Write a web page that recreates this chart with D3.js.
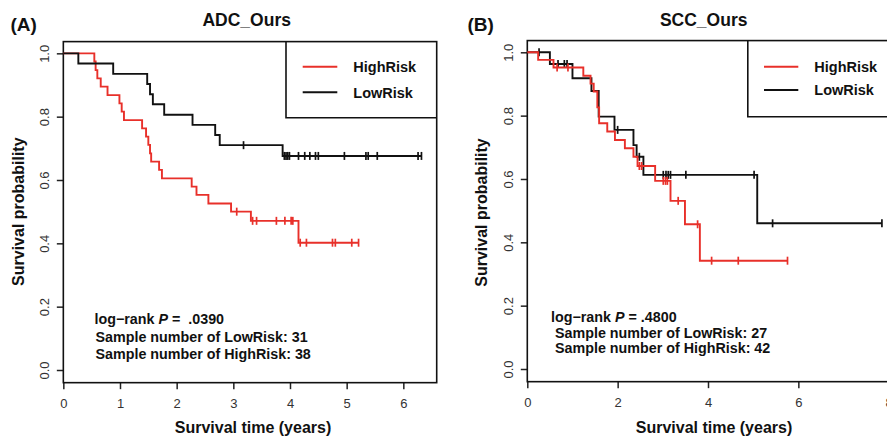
<!DOCTYPE html>
<html><head><meta charset="utf-8">
<script src="https://cdn.jsdelivr.net/npm/d3@7"></script>
<style>body{margin:0;background:#fff} svg{display:block;font-family:"Liberation Sans",Arial,sans-serif}</style>
</head><body><svg id="c" width="887" height="439"></svg>
<script>
// ---------- data ----------
const xTicksA = [0, 1, 2, 3, 4, 5, 6];
const xTicksB = [0, 2, 4, 6, 8];
const yTicks = [0, 0.2, 0.4, 0.6, 0.8, 1.0];
const seriesNames = ["HighRisk", "LowRisk"];

const adcHighTimes = [0.547, 0.57, 0.60, 0.66, 0.78, 0.99, 1.03, 1.07, 1.39, 1.46, 1.50, 1.53, 1.55, 1.69, 1.74, 2.265, 2.35, 2.56, 2.96, 3.31, 4.15];
const adcHighSurv  = [0.974, 0.947, 0.921, 0.895, 0.868, 0.842, 0.816, 0.789, 0.763, 0.737, 0.711, 0.684, 0.658, 0.632, 0.605, 0.579, 0.553, 0.526, 0.500, 0.471, 0.402];
const adcHighCensor = [3.06, 3.34, 3.41, 3.76, 3.91, 4.02, 4.05, 4.18, 4.29, 4.75, 4.80, 5.09, 5.21];

const adcLowTimes = [0.265, 0.88, 1.48, 1.53, 1.58, 1.78, 2.28, 2.68, 2.76, 3.87];
const adcLowSurv  = [0.968, 0.935, 0.903, 0.871, 0.839, 0.806, 0.774, 0.742, 0.710, 0.676];
const adcLowCensor = [3.18, 3.90, 3.93, 3.96, 3.99, 4.15, 4.26, 4.35, 4.45, 4.50, 4.96, 5.34, 5.38, 5.54, 6.26, 6.32];

const sccHighTimes = [0.24, 0.58, 1.24, 1.40, 1.47, 1.55, 1.59, 1.77, 1.94, 2.16, 2.35, 2.44, 2.83, 3.17, 3.49, 3.82];
const sccHighSurv  = [0.976, 0.952, 0.926, 0.901, 0.876, 0.826, 0.776, 0.750, 0.723, 0.697, 0.670, 0.641, 0.594, 0.531, 0.457, 0.342];
const sccHighCensor = [0.66, 0.90, 2.48, 2.53, 3.01, 3.06, 3.10, 3.34, 3.77, 4.08, 4.67, 5.76];

const sccLowTimes = [0.50, 1.00, 1.42, 1.58, 1.93, 2.35, 2.42, 2.57, 5.09];
const sccLowSurv  = [0.963, 0.918, 0.878, 0.797, 0.755, 0.707, 0.670, 0.613, 0.460];
const sccLowCensor = [0.26, 0.68, 0.82, 0.88, 2.00, 2.48, 3.01, 3.07, 3.12, 3.17, 3.51, 5.02, 5.43, 7.85];

const notesA = ["log\u2212rank |P| =  .0390", "Sample number of LowRisk: 31", "Sample number of HighRisk: 38"];
const notesB = ["log\u2212rank |P| = .4800", " Sample number of LowRisk: 27", " Sample number of HighRisk: 42"];

const RED = "#e8302a", BLACK = "#111";
// ---------------------------------------------------

const svg = d3.select("#c");

function kmPoints(times, surv, censor) {
  const pts = [[0, 1]];
  times.forEach((t, i) => pts.push([t, surv[i]]));
  const end = Math.max(d3.max(times), d3.max(censor));
  pts.push([end, pts[pts.length - 1][1]]);
  return pts;
}
function survAt(times, surv, t) {
  let v = 1;
  times.forEach((tt, i) => { if (tt <= t) v = surv[i]; });
  return v;
}

function panel(c) {
  const g = svg.append("g");
  const x = d3.scaleLinear().domain(c.xDom).range(c.xRange);
  const y = d3.scaleLinear().domain([0, 1]).range(c.yRange);
  const bl = x(0), br = c.boxRight, bt = y(1.037), bb = y(-0.04);

  // axes
  const xa = g.append("g").attr("transform", `translate(0,${bb})`)
    .call(d3.axisBottom(x).tickValues(c.xTicks).tickSize(6.5).tickFormat(d3.format("d")));
  const ya = g.append("g").attr("transform", `translate(${bl},0)`)
    .call(d3.axisLeft(y).tickValues(yTicks).tickSize(6.5).tickFormat(d3.format(".1f")));
  [xa, ya].forEach(a => {
    a.select(".domain").remove();
    a.selectAll("line").attr("stroke", "#222").attr("stroke-width", 1.5);
    a.selectAll("text").attr("fill", "#333").style("font-size", "13px").style("font-family", '"Liberation Sans",Arial,sans-serif');
  });
  xa.selectAll("text").attr("y", 25.3).attr("dy", 0);
  ya.selectAll("text").attr("transform", "rotate(-90)").attr("x", 0).attr("y", -14.3).attr("dy", 0)
    .style("text-anchor", "middle");

  // box
  g.append("rect").attr("x", bl).attr("y", bt).attr("width", br - bl).attr("height", bb - bt)
    .attr("fill", "none").attr("stroke", "#111").attr("stroke-width", 1.6);

  // curves
  const line = d3.line().x(d => x(d[0])).y(d => y(d[1])).curve(d3.curveStepAfter);
  c.series.forEach(s => {
    const pts = kmPoints(s.times, s.surv, s.censor);
    g.append("path").attr("d", line(pts)).attr("fill", "none").attr("stroke", s.color)
      .attr("stroke-width", 1.9).attr("stroke-linejoin", "miter");
    g.selectAll(null).data(s.censor).enter().append("line")
      .attr("x1", d => x(d)).attr("x2", d => x(d))
      .attr("y1", d => y(survAt(s.times, s.surv, d)) - 4)
      .attr("y2", d => y(survAt(s.times, s.surv, d)) + 4)
      .attr("stroke", s.color).attr("stroke-width", 1.7);
  });

  // legend
  const L = c.legend;
  g.append("path").attr("d", `M${L.left},${bt}V${L.bottom}H${L.right}`)
    .attr("fill", "none").attr("stroke", "#111").attr("stroke-width", 1.6);
  [[RED, L.y1, seriesNames[0]], [BLACK, L.y2, seriesNames[1]]].forEach(([col, yy, name]) => {
    g.append("line").attr("x1", L.lx1).attr("x2", L.lx2).attr("y1", yy).attr("y2", yy)
      .attr("stroke", col).attr("stroke-width", 1.9);
    g.append("text").attr("x", L.tx).attr("y", yy).attr("dy", "0.36em").text(name)
      .style("font-size", "14.5px").style("font-weight", "bold").attr("fill", "#111");
  });

  // notes
  c.notes.forEach((n, i) => {
    const t = g.append("text").attr("x", c.noteX[i]).attr("y", c.noteY[i])
      .style("font-size", "14.3px").style("font-weight", "bold").attr("fill", "#111")
      .attr("xml:space", "preserve").style("white-space", "pre");
    n.split("|").forEach((part, j) => {
      t.append("tspan").text(part).style("font-style", j === 1 ? "italic" : "normal");
    });
  });

  // titles
  g.append("text").attr("x", c.titleX).attr("y", 26).attr("text-anchor", "middle").text(c.title)
    .style("font-size", "17.5px").style("font-weight", "bold").attr("fill", "#111");
  g.append("text").attr("x", c.letterX).attr("y", 31).text(c.letter)
    .style("font-size", "19px").style("font-weight", "bold").attr("fill", "#111");
  g.append("text").attr("x", c.xTitleX).attr("y", 432.7).attr("text-anchor", "middle")
    .text("Survival time (years)").style("font-size", "16px").style("font-weight", "bold").attr("fill", "#111");
  g.append("text").attr("transform", `translate(${c.yTitleX},${c.yTitleY}) rotate(-90)`)
    .attr("text-anchor", "middle").text("Survival probability")
    .style("font-size", "16px").style("font-weight", "bold").attr("fill", "#111");
}

panel({
  xDom: [0, 6], xRange: [63.33, 403.33], yRange: [370, 53.33], boxRight: 436.7,
  xTicks: xTicksA,
  series: [
    { times: adcHighTimes, surv: adcHighSurv, censor: adcHighCensor, color: RED },
    { times: adcLowTimes, surv: adcLowSurv, censor: adcLowCensor, color: BLACK }
  ],
  legend: { left: 286, bottom: 117.7, right: 436.7, lx1: 302.7, lx2: 337.3, tx: 353.3, y1: 66.7, y2: 92.3 },
  notes: notesA, noteX: [94.5, 95.5, 95.5], noteY: [324.3, 341.7, 359.3],
  title: "ADC_Ours", titleX: 246.7, letter: "(A)", letterX: 10.5,
  xTitleX: 253, yTitleX: 23.7, yTitleY: 211.7
});

panel({
  xDom: [0, 8], xRange: [527.3, 888.7], yRange: [369, 52.3], boxRight: 905,
  xTicks: xTicksB,
  series: [
    { times: sccLowTimes, surv: sccLowSurv, censor: sccLowCensor, color: BLACK },
    { times: sccHighTimes, surv: sccHighSurv, censor: sccHighCensor, color: RED }
  ],
  legend: { left: 747.8, bottom: 116.7, right: 905, lx1: 764, lx2: 798.3, tx: 814.3, y1: 66.7, y2: 90 },
  notes: notesB, noteX: [551, 551, 551], noteY: [322.3, 337.5, 352.7],
  title: "SCC_Ours", titleX: 703.7, letter: "(B)", letterX: 467.5,
  xTitleX: 714, yTitleX: 487, yTitleY: 212.5
});
</script></body></html>
